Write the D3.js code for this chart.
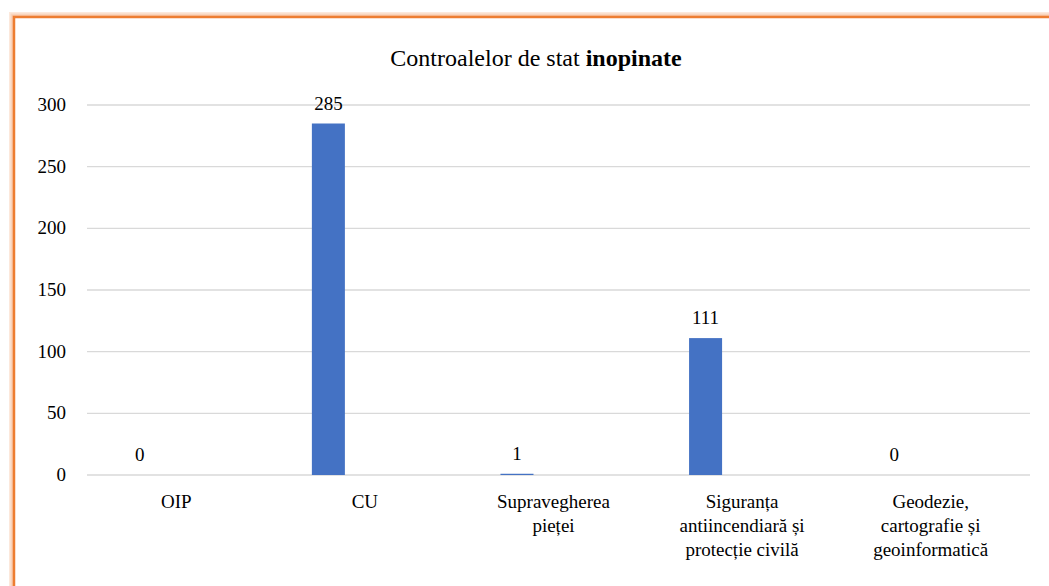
<!DOCTYPE html>
<html>
<head>
<meta charset="utf-8">
<script src="https://cdn.jsdelivr.net/npm/d3@7"></script>
<style>body{margin:0}</style>
</head>
<body>
<script>
const categories = [
  'OIP',
  'CU',
  'Supravegherea pieței',
  'Siguranța antiincendiară și protecție civilă',
  'Geodezie, cartografie și geoinformatică'
];
const values = [0, 285, 1, 111, 0];
const yTicks = [0, 50, 100, 150, 200, 250, 300];
// chart was built with 3 series slots, only the first one has data
const slots = ['s1', 's2', 's3'];

const width = 1049;
const height = 586;
const margin = { top: 105, right: 24, bottom: 111, left: 82 };
const font = 'Liberation Serif, serif';

const svg = d3
  .select('body')
  .append('svg')
  .attr('width', width)
  .attr('height', height)
  .attr('font-family', font);

// orange frame, glow faked with a few fading strokes
const glowSteps = [10, 7, 4.5];
svg.append('g')
  .selectAll('rect')
  .data(glowSteps)
  .join('rect')
  .attr('x', 14).attr('y', 17)
  .attr('width', width + 20).attr('height', height + 20)
  .attr('fill', 'none')
  .attr('stroke', '#f4a570')
  .attr('stroke-opacity', 0.25)
  .attr('stroke-width', (d) => d);
svg.append('rect')
  .attr('x', 14).attr('y', 17)
  .attr('width', width + 20).attr('height', height + 20)
  .attr('fill', '#fff')
  .attr('stroke', '#ED7D31')
  .attr('stroke-width', 2.5);

const x = d3
  .scaleBand()
  .domain(categories)
  .range([margin.left, width - margin.right]);

const x1 = d3
  .scaleBand()
  .domain(slots)
  .range([0, x.bandwidth()])
  .paddingOuter(1.13)
  .paddingInner(0.096);

const y = d3
  .scaleLinear()
  .domain([0, 300])
  .range([height - margin.bottom, margin.top]);

// grid
svg.append('g')
  .selectAll('line')
  .data(yTicks)
  .join('line')
  .attr('x1', margin.left + 5)
  .attr('x2', width - margin.right + 5)
  .attr('y1', (d) => y(d))
  .attr('y2', (d) => y(d))
  .attr('stroke', '#d9d9d9')
  .attr('stroke-width', 1.3);

// y labels
svg.append('g')
  .selectAll('text')
  .data(yTicks)
  .join('text')
  .attr('font-family', font)
  .attr('font-size', 19)
  .attr('text-anchor', 'end')
  .attr('x', 66)
  .attr('y', (d) => y(d) + 6)
  .text((d) => d);

// bars
svg.append('g')
  .attr('fill', '#4472C4')
  .selectAll('rect')
  .data(categories)
  .join('rect')
  .attr('x', (d) => x(d) + x1('s1'))
  .attr('width', x1.bandwidth())
  .attr('y', (d, i) => y(values[i]))
  .attr('height', (d, i) => y(0) - y(values[i]));

// value labels
svg.append('g')
  .selectAll('text')
  .data(categories)
  .join('text')
  .attr('font-family', font)
  .attr('font-size', 19)
  .attr('text-anchor', 'middle')
  .attr('x', (d) => x(d) + x1('s1') + x1.bandwidth() / 2)
  .attr('y', (d, i) => y(values[i]) - 14)
  .text((d, i) => values[i]);

// category labels, wrapped
const lines = [
  ['OIP'],
  ['CU'],
  ['Supravegherea', 'pieței'],
  ['Siguranța', 'antiincendiară și', 'protecție civilă'],
  ['Geodezie,', 'cartografie și', 'geoinformatică']
];
svg.append('g')
  .selectAll('text')
  .data(categories)
  .join('text')
  .attr('font-family', font)
  .attr('font-size', 19)
  .attr('text-anchor', 'middle')
  .attr('x', (d) => x(d) + x.bandwidth() / 2)
  .attr('y', 508)
  .each(function (d, i) {
    d3.select(this)
      .selectAll('tspan')
      .data(lines[i])
      .join('tspan')
      .attr('x', x(d) + x.bandwidth() / 2)
      .attr('dy', (t, j) => (j === 0 ? 0 : 24))
      .text((t) => t);
  });

// title
const title = svg.append('text')
  .attr('font-family', font)
  .attr('x', 536)
  .attr('y', 66)
  .attr('text-anchor', 'middle')
  .attr('font-size', 24);
title.append('tspan').text('Controalelor de stat ');
title.append('tspan').attr('font-weight', 'bold').text('inopinate');
</script>
</body>
</html>
